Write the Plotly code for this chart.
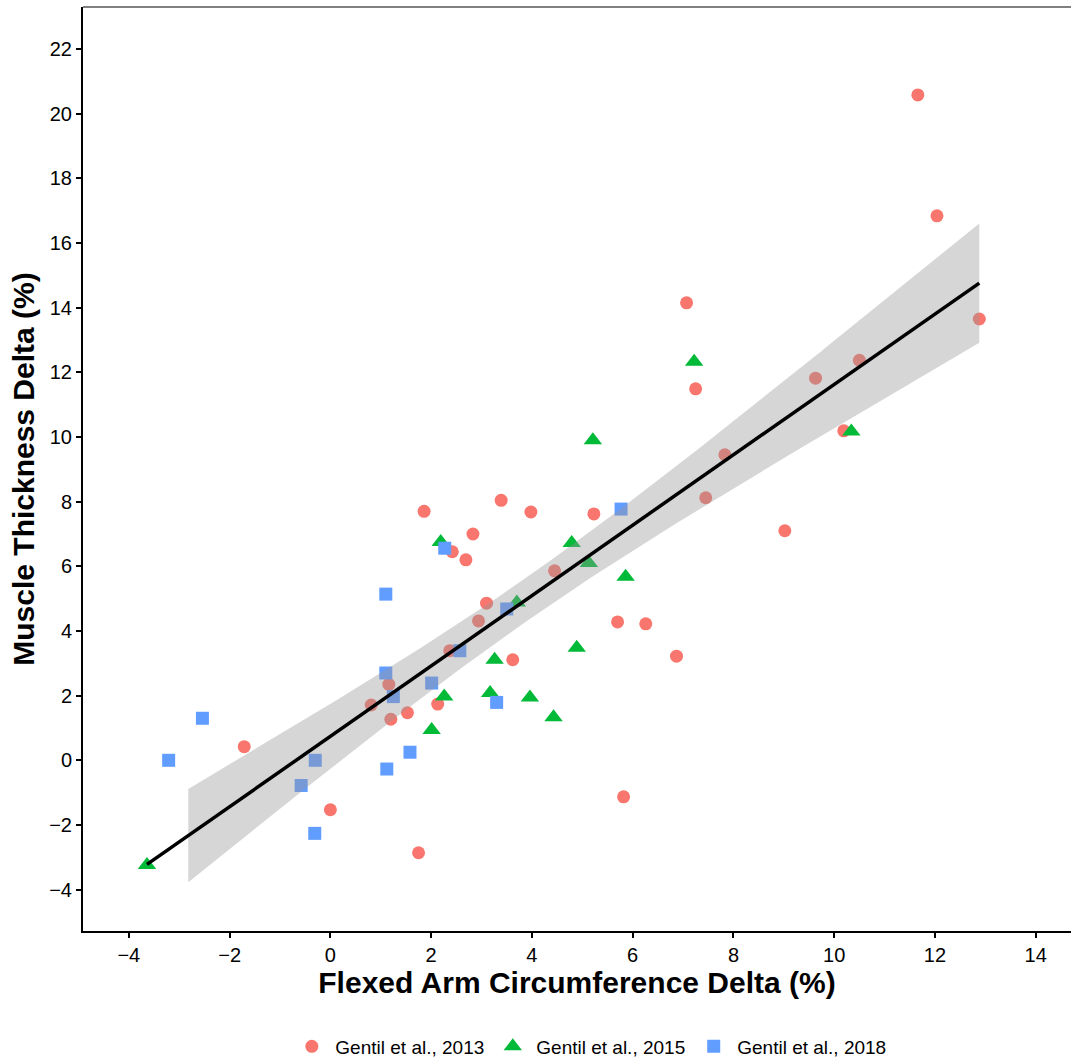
import numpy as np
import plotly.graph_objects as go

# --- data ---
x_2013 = [-1.71, 0.00, 0.81, 1.86, 3.39, 3.98, 2.83, 2.42, 2.69, 4.45, 3.10, 2.94, 2.37, 3.62,
          1.16, 2.13, 1.53, 1.20, 1.75, 7.07, 7.25, 7.83, 7.45, 5.23, 5.70, 6.26, 6.87, 5.82,
          9.02, 9.63, 10.50, 10.19, 11.66, 12.04, 12.88]
y_2013 = [0.42, -1.53, 1.71, 7.70, 8.04, 7.68, 7.00, 6.45, 6.20, 5.86, 4.86, 4.31, 3.39, 3.11,
          2.35, 1.74, 1.47, 1.27, -2.86, 14.15, 11.49, 9.45, 8.12, 7.62, 4.28, 4.22, 3.22, -1.13,
          7.10, 11.82, 12.37, 10.19, 20.58, 16.84, 13.65]

x_2015 = [-3.64, 2.19, 4.79, 5.13, 5.86, 3.70, 3.26, 4.89, 2.26, 3.17, 3.96, 4.43, 2.01, 5.21,
          7.22, 10.34]
y_2015 = [-3.24, 6.75, 6.72, 6.10, 5.68, 4.88, 3.11, 3.48, 1.97, 2.08, 1.94, 1.33, 0.94, 9.90,
          12.33, 10.17]

x_2018 = [-3.21, -2.54, -0.30, -0.58, -0.31, 1.10, 1.10, 1.25, 1.12, 1.58, 2.27, 2.57, 2.01,
          3.30, 3.50, 5.77]
y_2018 = [0.00, 1.30, 0.00, -0.78, -2.26, 5.14, 2.70, 1.97, -0.27, 0.25, 6.56, 3.39, 2.39,
          1.79, 4.68, 7.77]

series_names = ["Gentil et al., 2013", "Gentil et al., 2015", "Gentil et al., 2018"]
x_ticks = [-4, -2, 0, 2, 4, 6, 8, 10, 12, 14]
y_ticks = [-4, -2, 0, 2, 4, 6, 8, 10, 12, 14, 16, 18, 20, 22]
band_start = -2.82  # left end of the confidence ribbon in the reference

# --- linear fit with 95% CI ---
xa = np.array(x_2013 + x_2015 + x_2018)
ya = np.array(y_2013 + y_2015 + y_2018)
n = len(xa)
b1, b0 = np.polyfit(xa, ya, 1)
resid = ya - (b0 + b1 * xa)
s = np.sqrt(np.sum(resid ** 2) / (n - 2))
xbar = xa.mean()
sxx = np.sum((xa - xbar) ** 2)
tval = 1.995
xl = np.linspace(xa.min(), xa.max(), 80)
yl = b0 + b1 * xl
xb = np.linspace(band_start, xa.max(), 80)
yb = b0 + b1 * xb
se = s * np.sqrt(1.0 / n + (xb - xbar) ** 2 / sxx)
lo = yb - tval * se
hi = yb + tval * se

fig = go.Figure()
colors = ["#F8766D", "#00BA38", "#619CFF"]
symbols = ["circle", "triangle-up", "square"]
sizes = [13, 16, 13]
for xs, ys, nm, c, sym, sz in zip([x_2013, x_2015, x_2018], [y_2013, y_2015, y_2018],
                                  series_names, colors, symbols, sizes):
    fig.add_trace(go.Scatter(x=xs, y=ys, mode="markers", name=nm,
                             marker=dict(color=c, symbol=sym, size=sz, line=dict(width=0))))

fig.add_trace(go.Scatter(x=np.concatenate([xb, xb[::-1]]), y=np.concatenate([hi, lo[::-1]]),
                         fill="toself", fillcolor="rgba(153,153,153,0.4)",
                         line=dict(width=0), mode="lines", showlegend=False, hoverinfo="skip"))
fig.add_trace(go.Scatter(x=xl, y=yl, mode="lines", line=dict(color="black", width=3.5),
                         showlegend=False))

axis_common = dict(showgrid=False, zeroline=False, showline=True, linecolor="black",
                   linewidth=2, ticks="outside", ticklen=5, tickwidth=1.5, tickcolor="black",
                   automargin=False,
                   tickfont=dict(size=20, color="black", family="Liberation Sans"))
fig.update_xaxes(range=[-4.91, 14.70], tickvals=x_ticks,
                 ticktext=[("\u2212" + str(-v)) if v < 0 else str(v) for v in x_ticks],
                 title=dict(text="<b>Flexed Arm Circumference Delta (%)</b>",
                            font=dict(size=30, color="black", family="Liberation Sans"),
                            standoff=6),
                 **axis_common)
fig.update_yaxes(range=[-5.28, 23.30], tickvals=y_ticks,
                 ticktext=[("\u2212" + str(-v)) if v < 0 else str(v) for v in y_ticks],
                 title=dict(text="<b>Muscle Thickness Delta (%)</b>",
                            font=dict(size=30, color="black", family="Liberation Sans"),
                            standoff=6),
                 **axis_common)

fig.add_shape(type="line", xref="paper", yref="paper", x0=0, x1=1, y0=1, y1=1,
              line=dict(color="black", width=1))

fig.update_layout(
    width=1071, height=1059,
    margin=dict(l=83, r=0, t=7, b=128, autoexpand=False),
    plot_bgcolor="white", paper_bgcolor="white",
    font=dict(family="Liberation Sans", color="black"),
    legend=dict(orientation="h", x=0.513, xanchor="center", y=-0.125, yanchor="middle",
                font=dict(size=19, color="black"), itemwidth=37, tracegroupgap=0),
)

fig.write_html("out.html", config={"displayModeBar": False})
with open("out.html", "r", encoding="utf-8") as f:
    html = f.read()
html = html.replace("<body>", '<body style="margin:0;padding:0;overflow:hidden">', 1)
with open("out.html", "w", encoding="utf-8") as f:
    f.write(html)
